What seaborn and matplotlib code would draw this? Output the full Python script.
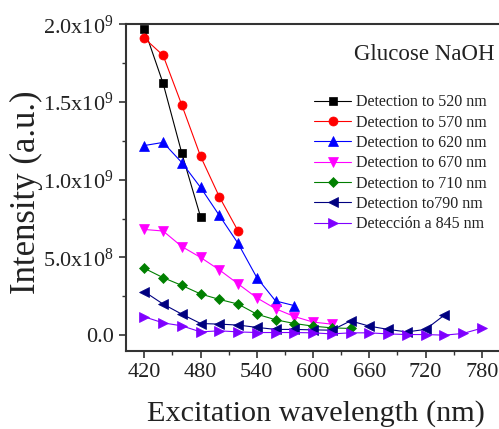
import numpy as np
import pandas as pd
import matplotlib
matplotlib.use("Agg")
import matplotlib.pyplot as plt
from matplotlib.ticker import MultipleLocator, FuncFormatter
import seaborn as sns

# excitation wavelengths (nm), all series start at 420 with 20 nm steps
wl = np.arange(420, 800, 20)

# intensities in units of 1e9 (a.u.)
det_520 = [1.97, 1.62, 1.17, 0.76]
det_570 = [1.91, 1.80, 1.48, 1.15, 0.89, 0.67]
det_620 = [1.22, 1.24, 1.11, 0.95, 0.77, 0.59, 0.37, 0.22, 0.19]
det_670 = [0.68, 0.67, 0.57, 0.50, 0.42, 0.33, 0.24, 0.17, 0.12, 0.084, 0.071]
det_710 = [0.43, 0.37, 0.32, 0.265, 0.23, 0.20, 0.135, 0.099, 0.075, 0.058, 0.047, 0.043]
det_790 = [0.28, 0.20, 0.135, 0.075, 0.071, 0.065, 0.050, 0.037, 0.037, 0.034, 0.032,
           0.092, 0.058, 0.037, 0.021, 0.037, 0.129]
det_845 = [0.118, 0.079, 0.060, 0.021, 0.028, 0.021, 0.017, 0.017, 0.017, 0.015, 0.008,
           0.015, 0.015, 0.008, 0.004, 0.004, 0.0, 0.011, 0.045]

labels = ["Detection to 520 nm", "Detection to 570 nm", "Detection to 620 nm",
          "Detection to 670 nm", "Detection to 710 nm", "Detection to790 nm",
          "Detección a 845 nm"]
series = [det_520, det_570, det_620, det_670, det_710, det_790, det_845]
colors = ["#000000", "#ff0000", "#0000ff", "#ff00ff", "#008000", "#000080", "#7f00ff"]
markers = ["s", "o", "^", "v", "D", "<", ">"]
msizes = [5.5, 6.5, 7, 7, 5, 7, 7]

sns.set_style("ticks")
plt.rcParams["font.family"] = ["Liberation Serif", "DejaVu Serif"]
plt.rcParams["mathtext.fontset"] = "custom"
plt.rcParams["mathtext.rm"] = "Liberation Serif"
plt.rcParams["mathtext.it"] = "Liberation Serif:italic"

fig = plt.figure(figsize=(4.99, 4.29), dpi=100)
ax = fig.add_axes([0.2517, 0.1825, 0.7515, 0.7609])

for vals, lab, c, m, ms in zip(series, labels, colors, markers, msizes):
    df = pd.DataFrame({"x": wl[:len(vals)], "y": np.array(vals) * 1e9})
    sns.lineplot(data=df, x="x", y="y", ax=ax, color=c, marker=m, markersize=ms,
                 markeredgecolor=c, markeredgewidth=0.5, linewidth=0.8, label=lab)

ax.set_xlim(400, 800)
ax.set_ylim(-1e8, 2e9)
ax.xaxis.set_major_locator(MultipleLocator(60))
ax.xaxis.set_minor_locator(MultipleLocator(30))
ax.yaxis.set_major_locator(MultipleLocator(5e8))
ax.yaxis.set_minor_locator(MultipleLocator(2.5e8))


def sci_fmt(v, pos):
    if v == 0:
        return "0.0"
    e = int(np.floor(np.log10(abs(v))))
    return f"{v / 10**e:.1f}x10$^{{{e}}}$"


ax.yaxis.set_major_formatter(FuncFormatter(sci_fmt))
ax.tick_params(which="major", direction="out", length=5, width=1.2, labelsize=16,
               colors="#333333", labelcolor="#222222", top=False, right=False)
ax.tick_params(which="minor", direction="out", length=3, width=1.0,
               colors="#333333", top=False, right=False)
for sp in ax.spines.values():
    sp.set_visible(True)
    sp.set_linewidth(1.5)
    sp.set_color("#333333")

ax.set_xlabel("Excitation wavelength (nm)", fontsize=21.75, color="#222222")
ax.set_ylabel("Intensity (a.u.)", fontsize=25, color="#222222")
ax.xaxis.set_label_coords(0.508, -0.152)
ax.yaxis.set_label_coords(-0.22, 0.486)

ax.text(0.985, 0.906, "Glucose NaOH", transform=ax.transAxes, fontsize=16.5,
        ha="right", va="center", color="#222222")

leg = ax.legend(loc="upper left", bbox_to_anchor=(0.486, 0.805), frameon=False,
                fontsize=11.5, handlelength=2.3, handletextpad=0.3,
                labelspacing=0.27, borderaxespad=0)
for t in leg.get_texts():
    t.set_color("#222222")

fig.savefig("out.png", dpi=100)
